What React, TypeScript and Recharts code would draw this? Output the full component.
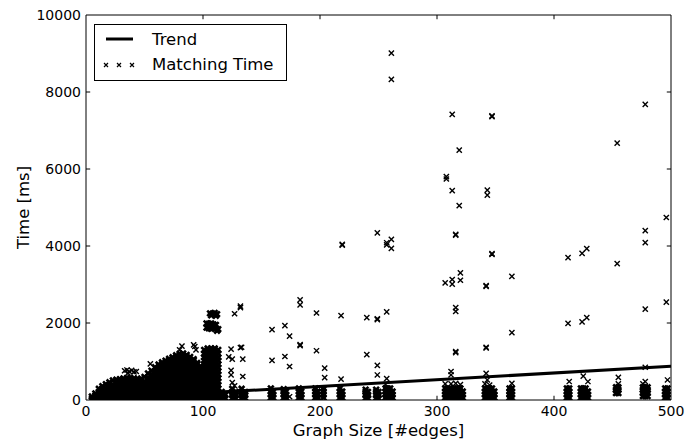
import React from 'react';
import { ScatterChart, Scatter, XAxis, YAxis, ReferenceArea, ReferenceLine, Legend } from 'recharts';

const xTicks = [0, 100, 200, 300, 400, 500];
const yTicks = [0, 2000, 4000, 6000, 8000, 10000];
const innerXTicks = [100, 200, 300, 400];
const innerYTicks = [2000, 4000, 6000, 8000];
const legendOrder = ['Trend', 'Matching Time'];

const trendPoints = [
  { x: 114, y: 205 },
  { x: 500, y: 875 },
];

// isolated matching-time points [edges, ms]
const outlierPoints: [number, number][] = [
  [261, 9010], [261, 8330], [313, 7420], [347, 7380], [347, 7360], [478, 7680], [454, 6670],
  [319, 6490], [308, 5800], [308, 5740], [313, 5440], [343, 5450], [343, 5320], [319, 5050],
  [496, 4740], [478, 4400], [316, 4300], [316, 4280], [249, 4340], [261, 4170], [257, 4085],
  [257, 4030], [261, 3940], [219, 4040], [219, 4020], [478, 4090], [347, 3800], [347, 3780],
  [428, 3930], [424, 3810], [412, 3700], [454, 3540], [364, 3210], [320, 3300], [320, 3110],
  [313, 3130], [313, 3010], [307, 3040], [342, 2950], [342, 2970],
  [316, 2400], [316, 2300], [183, 2600], [183, 2470], [197, 2260], [218, 2190], [240, 2140],
  [249, 2110], [249, 2090], [257, 2290], [132, 2440], [132, 2400], [127, 2240], [478, 2360],
  [496, 2540], [428, 2140], [424, 2030], [412, 1990], [364, 1750], [159, 1830], [170, 1930],
  [174, 1660], [183, 1440], [183, 1410], [197, 1280], [316, 1260], [316, 1230], [342, 1370],
  [342, 1350], [124, 1320], [132, 1360], [133, 1370], [122, 1120], [125, 1060], [134, 1060],
  [159, 1030], [170, 1130], [174, 870], [204, 830], [204, 580], [218, 540], [240, 1180],
  [249, 900], [249, 650], [257, 555], [312, 740], [312, 650], [342, 690], [124, 770],
  [124, 650], [134, 610], [125, 450], [127, 370],
  [256, 400], [307, 420], [312, 420], [341, 420], [316, 430], [364, 430], [320, 400],
  [343, 520], [345, 390], [413, 480], [429, 480], [425, 620], [455, 420], [455, 590],
  [476, 420], [478, 480], [478, 850], [497, 520], [174, 85],
];

// bold clusters above the dense block around 100-113 edges
const towerPoints: [number, number][] = [
  [106, 2250], [108, 2240], [110, 2260], [112, 2230], [107, 2200], [111, 2190],
  [103, 1990], [105, 1980], [107, 1990], [109, 1960], [111, 1950],
  [103, 1880], [105, 1860], [107, 1850], [109, 1880], [111, 1860], [113, 1840], [112, 1800],
];
// small islands sticking out of the dense block
const islandPoints: [number, number][] = [
  [33, 760], [35, 780], [37, 740], [39, 770], [41, 730], [36, 700], [43, 740], [55, 940],
  [80, 1300], [82, 1400], [93, 1390], [94, 1300], [93, 950], [92, 1430],
];

// stacks of low matching times at each graph size [edges, ms values]
const baseClusters: [number, number[]][] = [
  [116, [50, 130, 210]], [119, [50, 130]], [125, [50, 130, 210, 290]], [128, [50, 130, 210]],
  [133, [50, 130, 210, 290]], [136, [50, 130, 210]],
  [158, [60, 140, 220, 300]], [160, [60, 140, 220]], [169, [60, 140, 220, 280]], [171, [60, 140, 220]],
  [182, [60, 140, 220, 300]], [184, [60, 140, 220]], [196, [60, 140, 220, 300]],
  [198, [60, 140, 220]], [203, [60, 140, 220, 290]], [217, [60, 140, 220, 300]], [219, [60, 140, 220]],
  [239, [50, 130, 210, 270]], [241, [50, 130, 210]], [248, [50, 130, 210, 270]], [250, [50, 130, 210]],
  [256, [60, 140, 220, 300]], [258, [60, 140, 220, 300]], [260, [60, 140, 220, 300]], [262, [60, 140, 220]],
  [307, [60, 140, 220, 300]], [309, [60, 140, 220, 300]], [312, [60, 140, 220, 300]],
  [314, [60, 140, 220, 300]], [316, [60, 140, 220, 300]], [318, [60, 140, 220, 300]],
  [320, [60, 140, 220, 300]], [322, [60, 140, 220]],
  [341, [60, 140, 220, 300]], [343, [60, 140, 220, 300]], [345, [60, 140, 220, 300]],
  [347, [60, 140, 220, 300]], [349, [60, 140, 220]], [362, [60, 140, 220, 300]], [364, [60, 140, 220, 300]],
  [411, [60, 140, 220, 300]], [413, [60, 140, 220, 300]], [423, [60, 140, 220, 300]],
  [425, [60, 140, 220, 300]], [427, [60, 140, 220, 300]], [429, [60, 140, 220]],
  [453, [180, 260, 330]], [455, [180, 260, 330]],
  [476, [100, 180, 260, 330]], [478, [100, 180, 260, 330]], [480, [100, 180, 260, 330]],
  [495, [60, 140, 220, 300]], [497, [60, 140, 220, 300]],
];

// the dense region of small graphs [edges, ms values]
const denseColumns: [number, number[]][] = [
  [5, [30, 90]],
  [8, [30, 120, 170]],
  [11, [30, 120, 210, 290]],
  [14, [30, 120, 210, 300, 360]],
  [17, [30, 120, 210, 300, 410]],
  [20, [30, 120, 210, 300, 390, 460]],
  [23, [30, 120, 210, 300, 390, 510]],
  [26, [30, 120, 210, 300, 390, 480, 530]],
  [29, [30, 120, 210, 300, 390, 480, 540]],
  [32, [30, 120, 210, 300, 390, 480, 560]],
  [35, [30, 120, 210, 300, 390, 480, 570]],
  [38, [30, 120, 210, 300, 390, 480, 570]],
  [41, [30, 120, 210, 300, 390, 480, 560]],
  [44, [30, 120, 210, 300, 390, 480, 550]],
  [47, [30, 120, 210, 300, 390, 480, 550]],
  [50, [30, 120, 210, 300, 390, 480, 600]],
  [53, [30, 120, 210, 300, 390, 480, 570, 690]],
  [56, [30, 120, 210, 300, 390, 480, 570, 660, 760]],
  [59, [30, 120, 210, 300, 390, 480, 570, 660, 750, 850]],
  [62, [30, 120, 210, 300, 390, 480, 570, 660, 750, 840, 920]],
  [65, [30, 120, 210, 300, 390, 480, 570, 660, 750, 840, 930, 980]],
  [68, [30, 120, 210, 300, 390, 480, 570, 660, 750, 840, 930, 1020]],
  [71, [30, 120, 210, 300, 390, 480, 570, 660, 750, 840, 930, 1020, 1070]],
  [74, [30, 120, 210, 300, 390, 480, 570, 660, 750, 840, 930, 1020, 1110]],
  [77, [30, 120, 210, 300, 390, 480, 570, 660, 750, 840, 930, 1020, 1110, 1160]],
  [80, [30, 120, 210, 300, 390, 480, 570, 660, 750, 840, 930, 1020, 1110, 1200]],
  [83, [30, 120, 210, 300, 390, 480, 570, 660, 750, 840, 930, 1020, 1110, 1210]],
  [86, [30, 120, 210, 300, 390, 480, 570, 660, 750, 840, 930, 1020, 1110, 1170]],
  [89, [30, 120, 210, 300, 390, 480, 570, 660, 750, 840, 930, 1020, 1120]],
  [92, [30, 120, 210, 300, 390, 480, 570, 660, 750, 840, 930, 1020, 1060]],
  [95, [30, 120, 210, 300, 390, 480, 570, 660, 750, 840, 930, 960]],
  [98, [30, 120, 210, 300, 390, 480, 570, 660, 750, 840, 880]],
  [101, [30, 120, 210, 300, 390, 480, 570, 660, 750, 840, 930, 1020, 1110, 1200, 1300]],
  [104, [30, 120, 210, 300, 390, 480, 570, 660, 750, 840, 930, 1020, 1110, 1200, 1290, 1340]],
  [107, [30, 120, 210, 300, 390, 480, 570, 660, 750, 840, 930, 1020, 1110, 1200, 1290, 1340]],
  [110, [30, 120, 210, 300, 390, 480, 570, 660, 750, 840, 930, 1020, 1110, 1200, 1290, 1340]],
  [113, [30, 120, 210, 300, 390, 480, 570, 660, 750, 840, 930, 1020, 1110, 1200, 1300]],
];

const toPts = (arr: [number, number][]) => arr.map(([x, y]) => ({ x, y }));
const matchingData = [...toPts(outlierPoints), ...toPts(islandPoints)];
const boldData = [
  ...denseColumns.flatMap(([x, ys]) => ys.map((y) => ({ x, y }))),
  ...baseClusters.flatMap(([x, ys]) => ys.map((y) => ({ x, y }))),
  ...toPts(towerPoints),
];

const FONT = "'DejaVu Sans', sans-serif";

const crossPath = (cx: number, cy: number, h: number) =>
  `M${cx - h},${cy - h}L${cx + h},${cy + h}M${cx - h},${cy + h}L${cx + h},${cy - h}`;

const CrossShape = (props: any) => {
  const { cx, cy } = props;
  if (cx == null || cy == null) return <g />;
  return <path d={crossPath(cx, cy, 2.6)} stroke="#000" strokeWidth={1.4} fill="none" />;
};
const DenseShape = (props: any) => {
  const { cx, cy } = props;
  if (cx == null || cy == null) return <g />;
  return <path d={crossPath(cx, cy, 2.8)} stroke="#000" strokeWidth={2.6} fill="none" />;
};
const NoShape = () => <g />;

const renderLegend = (props: any) => {
  const payload: any[] = (props && props.payload) || [];
  const present = payload.map((p) => p.value);
  const names = legendOrder.filter((n) => present.length === 0 || present.includes(n));
  return (
    <svg width={193} height={57} style={{ display: 'block' }}>
      <rect x={0.5} y={0.5} width={192} height={56} fill="#fff" stroke="#000" strokeWidth={1} />
      {names.map((name: string, i: number) => {
        const cy = 15 + i * 25;
        return (
          <g key={name}>
            {name === 'Trend' ? (
              <line x1={12} y1={cy} x2={39} y2={cy} stroke="#000" strokeWidth={3} />
            ) : (
              [12, 25, 38].map((cx) => (
                <path key={cx} d={crossPath(cx, cy + 1, 2)} stroke="#000" strokeWidth={1.2} fill="none" />
              ))
            )}
            <text x={58} y={cy} dominantBaseline="central" fontSize={16.5} fontFamily={FONT} fill="#000">
              {name}
            </text>
          </g>
        );
      })}
    </svg>
  );
};

const YLabel = (props: any) => {
  const vb = props.viewBox || { x: 0, y: 15, width: 86, height: 385 };
  const cx = vb.x + 23;
  const cy = vb.y + vb.height / 2;
  return (
    <text x={cx} y={cy} transform={`rotate(-90, ${cx}, ${cy})`} textAnchor="middle" dominantBaseline="central"
      fontSize={16.5} fontFamily={FONT} fill="#000">
      Time [ms]
    </text>
  );
};
const XLabel = (props: any) => {
  const vb = props.viewBox || { x: 86, y: 400, width: 585, height: 42 };
  return (
    <text x={vb.x + vb.width / 2} y={vb.y + 36} textAnchor="middle" fontSize={16.5} fontFamily={FONT} fill="#000">
      Graph Size [#edges]
    </text>
  );
};

export default function App() {
  return (
    <div style={{ position: 'absolute', left: 0, top: 0, background: '#fff' }}>
      <ScatterChart width={697} height={442} margin={{ top: 15, right: 26, bottom: 0, left: 0 }}>
        <XAxis
          type="number"
          dataKey="x"
          domain={[0, 500]}
          ticks={xTicks}
          interval={0}
          height={42}
          axisLine={false}
          tickLine={false}
          tickSize={0}
          tickMargin={6}
          tick={{ fontSize: 14, fill: '#000', fontFamily: FONT }}
          label={<XLabel />}
          allowDataOverflow
        />
        <YAxis
          type="number"
          dataKey="y"
          domain={[0, 10000]}
          ticks={yTicks}
          interval={0}
          width={86}
          axisLine={false}
          tickLine={false}
          tickSize={0}
          tickMargin={5}
          tick={{ fontSize: 14, fill: '#000', fontFamily: FONT }}
          label={<YLabel />}
          allowDataOverflow
        />
        <Scatter
          name="Trend"
          data={trendPoints}
          line={{ stroke: '#000', strokeWidth: 3 }}
          shape={NoShape}
          legendType="line"
          isAnimationActive={false}
        />
        <Scatter data={boldData} shape={DenseShape} legendType="none" isAnimationActive={false} />
        <Scatter name="Matching Time" data={matchingData} shape={CrossShape} legendType="cross" isAnimationActive={false} />
        <ReferenceArea x1={0} x2={500} y1={0} y2={10000} fill="none" fillOpacity={0} stroke="#000" strokeWidth={1} />
        {innerXTicks.map((t) => (
          <ReferenceLine key={`b${t}`} segment={[{ x: t, y: 0 }, { x: t, y: 110 }]} stroke="#000" strokeWidth={1} />
        ))}
        {innerXTicks.map((t) => (
          <ReferenceLine key={`t${t}`} segment={[{ x: t, y: 10000 }, { x: t, y: 9890 }]} stroke="#000" strokeWidth={1} />
        ))}
        {innerYTicks.map((t) => (
          <ReferenceLine key={`l${t}`} segment={[{ x: 0, y: t }, { x: 3.6, y: t }]} stroke="#000" strokeWidth={1} />
        ))}
        {innerYTicks.map((t) => (
          <ReferenceLine key={`r${t}`} segment={[{ x: 500, y: t }, { x: 496.4, y: t }]} stroke="#000" strokeWidth={1} />
        ))}
        <Legend
          content={renderLegend}
          layout="horizontal"
          verticalAlign="middle"
          align="center"
          width={193}
          height={57}
          wrapperStyle={{ left: 94, top: 24, width: 193, height: 57 }}
        />
      </ScatterChart>
    </div>
  );
}
